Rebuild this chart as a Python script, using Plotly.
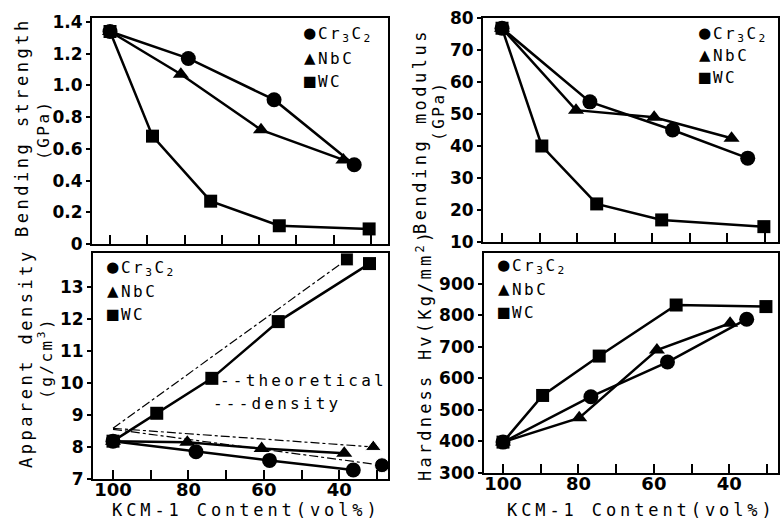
import plotly.graph_objects as go

W, H = 780, 522

# ---------------- data ----------------
kcm_major = [100, 80, 60, 40]
kcm_minor = [90, 70, 50, 30]

# Bending strength (GPa)
bs_cr_x = [100, 79, 56, 34.5]
bs_cr_y = [1.34, 1.17, 0.91, 0.50]
bs_nb_x = [100, 81, 59.5, 37.4]
bs_nb_y = [1.34, 1.07, 0.72, 0.53]
bs_wc_x = [100, 88.6, 73, 54.6, 30.5]
bs_wc_y = [1.34, 0.68, 0.27, 0.115, 0.095]
bs_ticks = [0, 0.2, 0.4, 0.6, 0.8, 1.0, 1.2, 1.4]
bs_labels = ["0", "0.2", "0.4", "0.6", "0.8", "1.0", "1.2", "1.4"]

# Bending modulus (GPa)
bm_cr_x = [100, 76.6, 54.6, 34.6]
bm_cr_y = [76.8, 53.8, 45.0, 36.2]
bm_nb_x = [100, 80.3, 59.5, 38.9]
bm_nb_y = [76.8, 51.2, 49.0, 42.4]
bm_wc_x = [100, 89.4, 74.8, 57.5, 30.3]
bm_wc_y = [76.8, 40.0, 21.9, 16.9, 14.8]
bm_ticks = [10, 20, 30, 40, 50, 60, 70, 80]

# Apparent density (g/cm3)
den_cr_x = [100, 78, 58.5, 36.3]
den_cr_y = [8.18, 7.85, 7.58, 7.28]
den_nb_x = [100, 80.3, 60.6, 38.7]
den_nb_y = [8.18, 8.15, 7.95, 7.80]
den_wc_x = [100, 88.4, 73.8, 56.2, 32]
den_wc_y = [8.18, 9.05, 10.14, 11.91, 13.72]
th_cr_x = [100, 28.7]
th_cr_y = [8.55, 7.43]
th_nb_x = [100, 31]
th_nb_y = [8.58, 8.00]
th_wc_x = [100, 38]
th_wc_y = [8.58, 13.85]
den_ticks = [7, 8, 9, 10, 11, 12, 13]

# Hardness Hv (Kg/mm2)
hv_cr_x = [100, 76.7, 56.4, 35.4]
hv_cr_y = [398, 542, 652, 788]
hv_nb_x = [100, 79.8, 59.2, 39.8]
hv_nb_y = [398, 475, 690, 775]
hv_wc_x = [100, 89.5, 74.5, 54.1, 30.3]
hv_wc_y = [398, 546, 671, 833, 828]
hv_ticks = [300, 400, 500, 600, 700, 800, 900]

# ---------------- helpers ----------------
BLACK = "black"
TXT = "DejaVu Sans Mono"
NUM_Y = dict(family="DejaVu Sans", size=17, color=BLACK, weight="bold")
NUM_X = dict(family="DejaVu Sans", size=18, color=BLACK, weight="bold")


def ls(text, sp):
    return f'<span style="letter-spacing:{sp}px">{text}</span>'


def px(x, y):
    return x / W, 1 - y / H


fig = go.Figure()


def series(x, y, sym, size, ax):
    fig.add_trace(go.Scatter(
        x=x, y=y, mode="lines+markers", xaxis=ax[0], yaxis=ax[1],
        line=dict(color=BLACK, width=2.5),
        marker=dict(symbol=sym, size=size, color=BLACK, opacity=1),
        showlegend=False, hoverinfo="skip"))


def theory(x, y, sym, size, ax):
    fig.add_trace(go.Scatter(
        x=x, y=y, mode="lines+markers", xaxis=ax[0], yaxis=ax[1],
        line=dict(color=BLACK, width=1.2, dash="dashdot"),
        marker=dict(symbol=sym, size=[0, size], color=BLACK, opacity=1),
        showlegend=False, hoverinfo="skip"))


A1, A2, A3, A4 = ("x", "y"), ("x2", "y2"), ("x3", "y3"), ("x4", "y4")

series(bs_wc_x, bs_wc_y, "square", 13, A1)
series(bs_nb_x, bs_nb_y, "triangle-up", 14, A1)
series(bs_cr_x, bs_cr_y, "circle", 15, A1)

series(bm_wc_x, bm_wc_y, "square", 13, A2)
series(bm_nb_x, bm_nb_y, "triangle-up", 14, A2)
series(bm_cr_x, bm_cr_y, "circle", 15, A2)

theory(th_wc_x, th_wc_y, "square", 13, A3)
theory(th_nb_x, th_nb_y, "triangle-up", 14, A3)
theory(th_cr_x, th_cr_y, "circle", 15, A3)
series(den_wc_x, den_wc_y, "square", 13, A3)
series(den_nb_x, den_nb_y, "triangle-up", 14, A3)
series(den_cr_x, den_cr_y, "circle", 15, A3)

series(hv_wc_x, hv_wc_y, "square", 13, A4)
series(hv_nb_x, hv_nb_y, "triangle-up", 14, A4)
series(hv_cr_x, hv_cr_y, "circle", 15, A4)


def xax(l, r, rng, anchor, labels):
    return dict(domain=[l / W, r / W], range=rng, anchor=anchor,
                automargin=False,
                tickmode="array", tickvals=kcm_major,
                ticktext=[str(v) for v in kcm_major],
                showticklabels=labels, ticks="inside", ticklen=9, tickwidth=2,
                tickcolor=BLACK,
                minor=dict(tickmode="array", tickvals=kcm_minor, ticks="inside",
                           ticklen=9, tickwidth=2, tickcolor=BLACK, showgrid=False),
                showline=True, linewidth=2, linecolor=BLACK,
                mirror=True, showgrid=False, zeroline=False, tickfont=NUM_X)


def yax(top, bot, rng, anchor, tv, tt=None):
    return dict(domain=[1 - bot / H, 1 - top / H], range=rng, anchor=anchor,
                automargin=False,
                tickmode="array", tickvals=tv,
                ticktext=tt if tt else [str(v) for v in tv],
                ticks="outside", ticklen=4, tickwidth=2, tickcolor=BLACK,
                showline=True, linewidth=2, linecolor=BLACK, mirror=True,
                showgrid=False, zeroline=False, tickfont=NUM_Y)


fig.update_layout(
    template="none",
    width=W, height=H, margin=dict(l=0, r=0, t=0, b=0, autoexpand=False),
    paper_bgcolor="white", plot_bgcolor="white", showlegend=False,
    xaxis=xax(92, 388, [104.83, 25.44], "y", False),
    yaxis=yax(18, 244, [0, 1.425], "x", bs_ticks, bs_labels),
    xaxis2=xax(483, 778, [105.06, 26.54], "y2", False),
    yaxis2=yax(18, 242, [10, 80], "x2", bm_ticks),
    xaxis3=xax(93, 388, [105.3, 27.1], "y3", True),
    yaxis3=yax(253, 479, [7, 14.05], "x3", den_ticks),
    xaxis4=xax(484, 778, [105.04, 27.1], "y4", True),
    yaxis4=yax(253, 473, [300, 998], "x4", hv_ticks),
)

# pull the bottom tick labels up toward the axis line, as in the scan
for name in ("xaxis3", "xaxis4"):
    try:
        fig.layout[name].ticklabelstandoff = -7
    except Exception:
        pass

ann = []


def text(x, y, t, size=16, angle=0, xanchor="center", sp=3.5):
    ax_, ay_ = px(x, y)
    ann.append(dict(x=ax_, y=ay_, xref="paper", yref="paper", text=ls(t, sp),
                    showarrow=False, textangle=angle, xanchor=xanchor,
                    yanchor="middle", font=dict(family=TXT, size=size, color=BLACK)))


# axis titles
text(22, 127, "Bending strength", 17, -90)
text(43, 130, "(GPa)", 16, -90, sp=2.5)
text(420, 131, "Bending modulus", 17, -90)
text(438, 111, "(GPa)", 16, -90, sp=2.5)
text(26, 358, "Apparent density", 17, -90)
text(45, 358, "(g/cm<sup>3</sup>)", 16, -90, sp=2.5)
text(424, 355, "Hardness Hv(Kg/mm<sup>2</sup>)", 17, -90, sp=3.2)
text(246, 510, "KCM-1 Content(vol%)", 17, 0, sp=3.9)
text(641, 510, "KCM-1 Content(vol%)", 17, 0, sp=3.9)

# in-panel legends
SYM = '<span style="font-size:19px">{}</span>'
leg_items = [("●", "Cr<sub>3</sub>C<sub>2</sub>"), ("▲", "NbC"), ("■", "WC")]
for (lx, ys) in [(302, [33, 57, 80]), (697, [33, 54, 76]),
                 (105, [267, 290, 313]), (496, [265, 288, 311])]:
    for (s, name), yy in zip(leg_items, ys):
        text(lx, yy, SYM.format(s) + name, 16, 0, "left", sp=2.5)

text(218, 380, "--theoretical", 16, 0, "left", sp=3.2)
text(211, 403, "---density", 16, 0, "left", sp=3.2)

fig.update_layout(annotations=ann)
fig.write_html(
    "out.html",
    config={"displayModeBar": False},
    post_script="document.body.style.margin='0';document.body.style.overflow='hidden';",
)
